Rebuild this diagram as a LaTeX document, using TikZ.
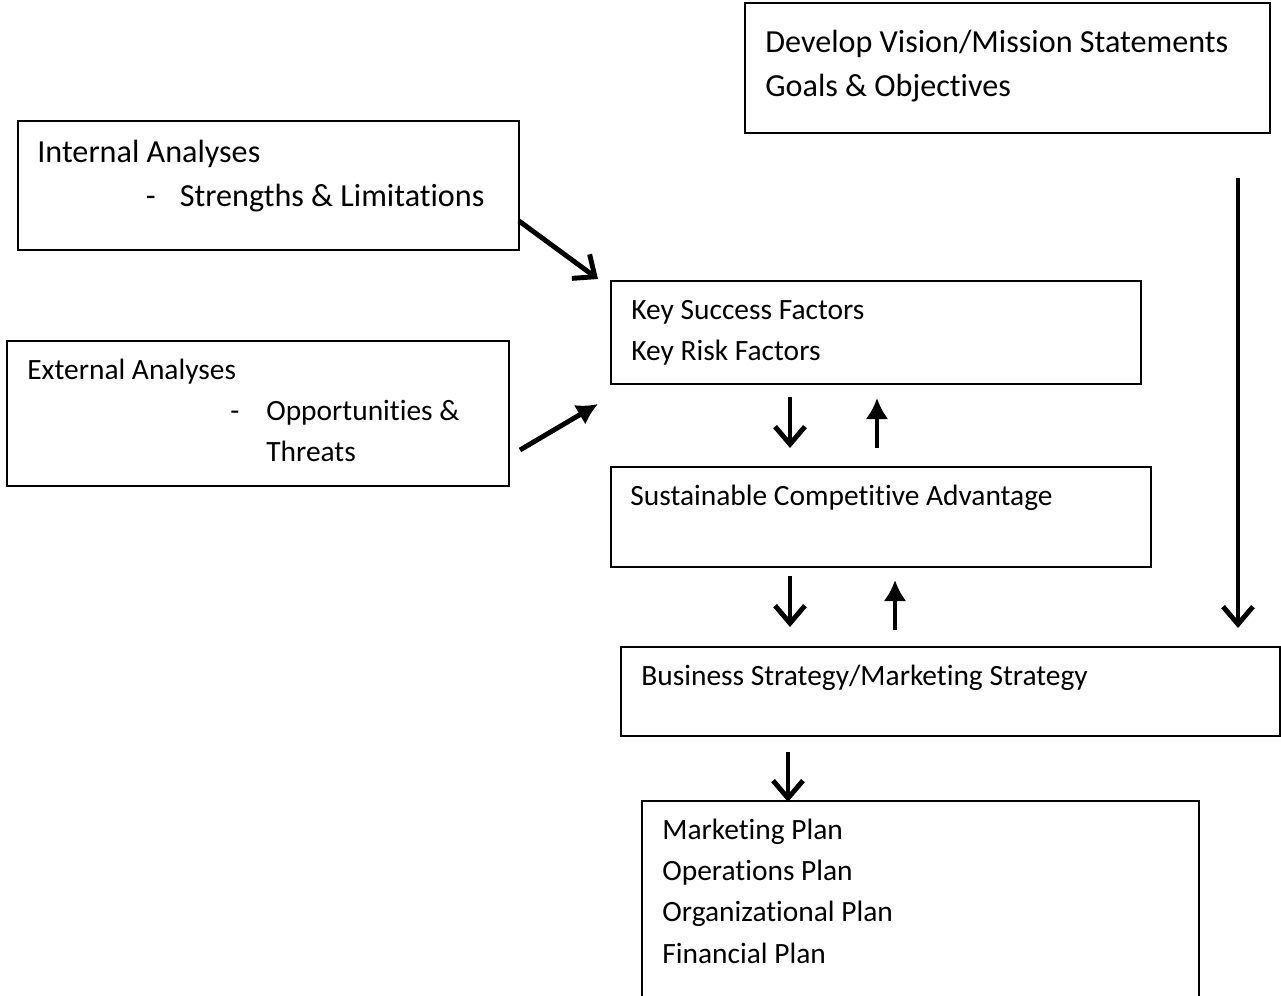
\documentclass[tikz,border=0pt]{standalone}
\usepackage{fontspec}
\setmainfont{Carlito}[RawFeature={-liga;-clig;-calt;-dlig}]
\usetikzlibrary{arrows.meta,fit}
\tikzset{
  box/.style={draw,line width=1.1pt,inner sep=0pt},
  big/.style={anchor=north west,inner sep=0pt,align=left,font=\fontsize{18.3}{25}\selectfont},
  small/.style={anchor=north west,inner sep=0pt,align=left,font=\fontsize{16.75}{23.5}\selectfont},
  barb/.style={-{Straight Barb[length=10pt,width=17pt]},line width=2.8pt},
  tri/.style={-{Latex[length=12pt,width=13pt]},line width=2.8pt}
}
\begin{document}
\begin{tikzpicture}[x=0.02cm,y=-0.02cm]
\useasboundingbox (0,0) rectangle (1281,996);
% boxes
\node[box,fit={(745,3)(1270,133)}](vision){};
\node[box,fit={(18,121)(519,250)}](intl){};
\node[box,fit={(7,341)(509,486)}](extl){};
\node[box,fit={(611,281)(1141,384)}](ksf){};
\node[box,fit={(611,467)(1151,567)}](sca){};
\node[box,fit={(621,647)(1280,736)}](bus){};
\node[box,fit={(642,801)(1199,1020)}](plans){};
% texts
\node[big](visiontxt) at ([shift={(21,19)}]vision.north west)
  {\strut Develop Vision/Mission Statements\\Goals \& Objectives};
\node[big](intltxt) at ([shift={(20,11)}]intl.north west)
  {\strut Internal Analyses\\\hspace*{61.8pt}\makebox[19.3pt][l]{-}Strengths \& Limitations};
\node[small](extltxt) at ([shift={(21,10)}]extl.north west)
  {\strut External Analyses\\\hspace*{115.6pt}\makebox[20.4pt][l]{-}Opportunities \&\\\hspace*{136pt}Threats};
\node[small](ksftxt) at ([shift={(21,10)}]ksf.north west)
  {\strut Key Success Factors\\Key Risk Factors};
\node[small](scatxt) at ([shift={(20,10)}]sca.north west)
  {\strut Sustainable Competitive Advantage};
\node[small](bustxt) at ([shift={(21,10)}]bus.north west)
  {\strut Business Strategy/Marketing Strategy};
\node[small](planstxt) at ([shift={(21,10)}]plans.north west)
  {\strut Marketing Plan\\Operations Plan\\Organizational Plan\\Financial Plan};
% arrow ends
\coordinate (i1) at (519,221); \coordinate (i2) at (598,279);
\coordinate (e1) at (520,450); \coordinate (e2) at (598,404);
\coordinate (d1) at (790,397); \coordinate (d2) at (790,448);
\coordinate (u1) at (877,448); \coordinate (u2) at (877,398);
\coordinate (d3) at (790,576); \coordinate (d4) at (790,627);
\coordinate (u3) at (895,630); \coordinate (u4) at (895,580);
\coordinate (v1) at (1238,178); \coordinate (v2) at (1238,628);
\coordinate (d5) at (788,752); \coordinate (d6) at (788,802);
% arrows
\draw[barb](i1)--(i2);
\draw[tri](e1)--(e2);
\draw[barb](d1)--(d2);
\draw[tri](u1)--(u2);
\draw[barb](d3)--(d4);
\draw[tri](u3)--(u4);
\draw[barb](v1)--(v2);
\draw[barb](d5)--(d6);
\end{tikzpicture}
\end{document}
